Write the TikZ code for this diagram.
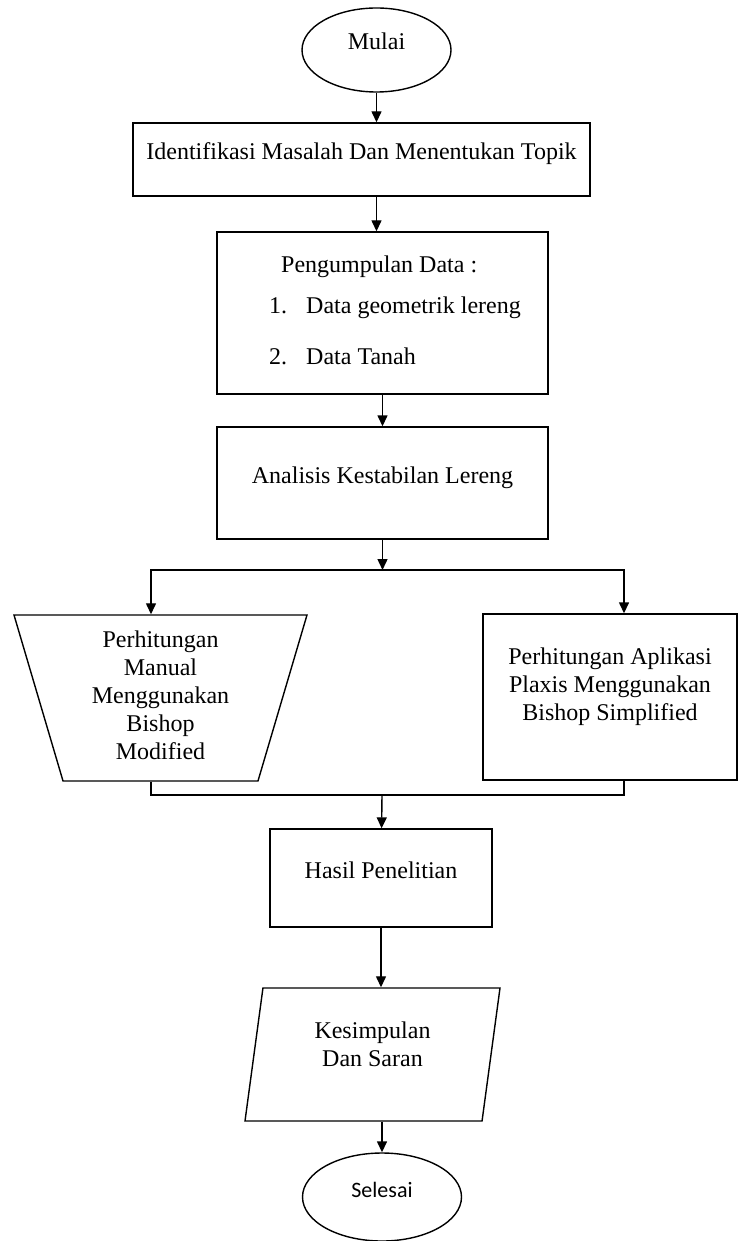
\documentclass[tikz,border=0pt]{standalone}
\usepackage{fontspec}
\setmainfont{Liberation Serif}
\newfontfamily\calibri{Carlito}
\usetikzlibrary{shapes.geometric, arrows.meta}

\begin{document}
\begin{tikzpicture}[x=0.5pt, y=-0.5pt, line width=0.7pt,
  >={Triangle[length=5.5pt,width=5pt]},
  every node/.style={font=\fontsize{12}{14}\selectfont, inner sep=0pt},
  kotak/.style={draw, rectangle},
  elips/.style={draw, ellipse},
  trapesium/.style={draw, trapezium, trapezium angle=70.7, shape border rotate=180, trapezium stretches body},
  jajargenjang/.style={draw, trapezium, trapezium left angle=76, trapezium right angle=104, trapezium stretches body},
  barissatu/.style={text height=0pt, text depth=0pt}]

\useasboundingbox (0,0) rectangle (739,1241);

\node[elips, barissatu, minimum width=74.5pt, minimum height=42pt] (mulai) at (376.5,50) {Mulai};
\node[kotak, barissatu, minimum width=228.5pt, minimum height=36.5pt] (identifikasi) at (361.5,159.5) {Identifikasi Masalah Dan Menentukan Topik};
\node[kotak, minimum width=165.5pt, minimum height=81pt] (data) at (382.5,313) {\hspace*{12.5pt}\begin{tabular}{@{}l@{}}\hspace*{6pt}Pengumpulan Data :\\[6.5pt]\makebox[18.5pt][l]{1.}Data geometrik lereng\\[11.5pt]\makebox[18.5pt][l]{2.}Data Tanah\end{tabular}};
\node[kotak, barissatu, minimum width=165.5pt, minimum height=56pt] (analisis) at (382.5,483) {Analisis Kestabilan Lereng};
\node[trapesium, minimum width=146.5pt, minimum height=83pt] (manual) at (160.5,698) {\begin{tabular}{@{}c@{}}Perhitungan\\Manual\\Menggunakan\\Bishop\\Modified\end{tabular}};
\node[kotak, minimum width=127pt, minimum height=83pt] (plaxis) at (610,697) {\begin{tabular}{@{}c@{}}Perhitungan Aplikasi\\Plaxis Menggunakan\\Bishop Simplified\\[10pt]\end{tabular}};
\node[kotak, barissatu, minimum width=111pt, minimum height=49pt] (hasil) at (381,878) {Hasil Penelitian};
\node[jajargenjang, minimum width=127.5pt, minimum height=66.5pt] (kesimpulan) at (372.5,1054.5) {\begin{tabular}{@{}c@{}}Kesimpulan\\Dan Saran\\[8pt]\end{tabular}};
\node[elips, barissatu, font=\calibri\fontsize{11}{13}\selectfont, minimum width=79.5pt, minimum height=44pt] (selesai) at (382,1197) {Selesai};

\coordinate (cabang) at (382.5,570);
\coordinate (kiri) at (151,570);
\coordinate (kanan) at (624,570);
\coordinate (gabung) at (382,795);

\draw[->] (mulai.south) -- (mulai.south |- identifikasi.north);
\draw[->] (mulai.south |- identifikasi.south) -- (mulai.south |- data.north);
\draw[->] (data) -- (analisis);
\draw[->] (analisis) -- (cabang);
\draw[->] (cabang) -- (kiri) -- (kiri |- manual.north);
\draw[->] (cabang) -- (kanan) -- (kanan |- plaxis.north);
\draw (kiri |- manual.south) -- (kiri |- gabung) -- (kanan |- gabung) -- (kanan |- plaxis.south);
\draw[->] (gabung) -- (hasil);
\draw[->] (hasil) -- (hasil.south |- kesimpulan.north);
\draw[->] (selesai.north |- kesimpulan.south) -- (selesai);

\end{tikzpicture}
\end{document}
